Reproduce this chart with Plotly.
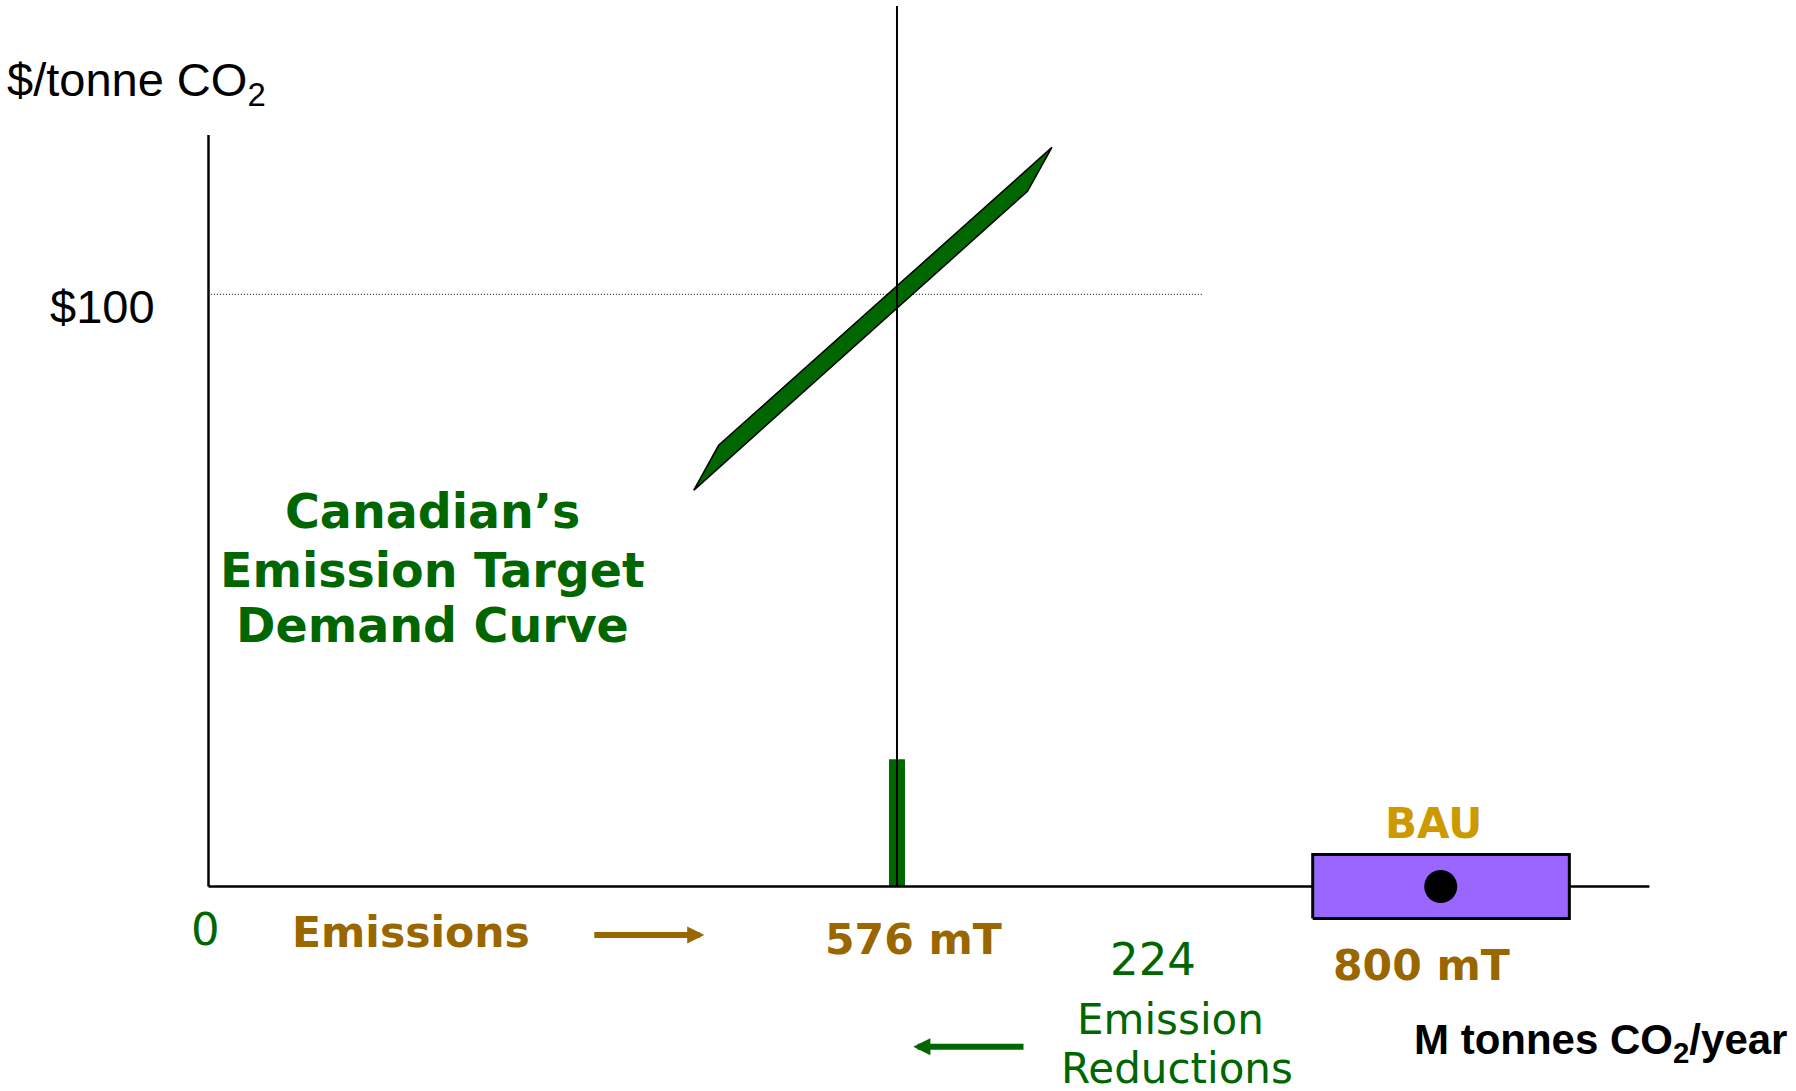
import plotly.graph_objects as go

# ---------------- data (schematic diagram) ----------------
# x: emissions (M tonnes CO2/year, schematic drawing units), y: price ($/tonne CO2)
axis_x_end = [1205.5]
axis_y_end = [126.9]
price_level = [100]
price_label = ["$100"]
target_emissions = [576]
target_bar_top = [21.5]
dotted_x = [2, 831.8]
vline_top = [148.7]
demand_x = [405.9, 426.8, 705.6, 685.2, 405.9]
demand_y = [66.9, 74.5, 124.8, 117.4, 66.9]
bau_point_x = [1030.9]          # schematic position of BAU (800 mT)
bau_box_x = [923.8, 1138.5]
bau_box_y = [-5.4, 5.4]
emis_arrow_x = [321.5, 414.8]
emis_arrow_y = [-8.2]
red_arrow_x = [683.1, 589.6]
red_arrow_y = [-27.05]

GREEN = "#006600"
BROWN = "#996600"
GOLD = "#CC9900"
PURPLE = "#9966FF"

# pixel geometry of the plot (axes fill the whole page)
W, H = 1796, 1091
OX, OY = 208.5, 886.5          # pixel position of origin
PXX, PXY = 1.1953, 5.922        # pixels per unit
xr = [-OX / PXX, (W - OX) / PXX]
yr = [-(H - OY) / PXY, OY / PXY]

fig = go.Figure()

# dotted $100 line
fig.add_trace(go.Scatter(x=dotted_x, y=[price_level[0]] * 2, mode="lines",
                         line=dict(color="black", width=1, dash="1px,2px"), hoverinfo="skip"))
# demand curve band
fig.add_trace(go.Scatter(x=demand_x, y=demand_y, mode="lines", fill="toself",
                         fillcolor=GREEN, line=dict(color="black", width=1.5), hoverinfo="skip"))
# green bar at target
fig.add_trace(go.Scatter(x=[target_emissions[0]] * 2, y=[0, target_bar_top[0]], mode="lines",
                         line=dict(color=GREEN, width=16), hoverinfo="skip"))
# vertical target line
fig.add_trace(go.Scatter(x=[target_emissions[0]] * 2, y=[0, vline_top[0]], mode="lines",
                         line=dict(color="black", width=2), hoverinfo="skip"))
# axes
fig.add_trace(go.Scatter(x=[0, 0], y=[axis_y_end[0], 0], mode="lines",
                         line=dict(color="black", width=2.5), hoverinfo="skip"))
fig.add_trace(go.Scatter(x=[0, axis_x_end[0]], y=[0, 0], mode="lines",
                         line=dict(color="black", width=2.5), hoverinfo="skip"))
# BAU box
bx = [bau_box_x[0], bau_box_x[1], bau_box_x[1], bau_box_x[0], bau_box_x[0]]
by = [bau_box_y[0], bau_box_y[0], bau_box_y[1], bau_box_y[1], bau_box_y[0]]
fig.add_trace(go.Scatter(x=bx, y=by, mode="lines", fill="toself", fillcolor=PURPLE,
                         line=dict(color="black", width=3), hoverinfo="skip"))
# BAU point
fig.add_trace(go.Scatter(x=bau_point_x, y=[0], mode="markers",
                         marker=dict(color="black", size=33, line=dict(width=0)), hoverinfo="skip"))

ARIAL = "Liberation Sans, Arial, sans-serif"
VERD = "DejaVu Sans, Verdana, sans-serif"

texts = [
    ("$/tonne CO<sub>2</sub>", -170.5, 135.6, ARIAL, 47, "black", "left"),
    (price_label[0], -43.1, 98.0, ARIAL, 47, "black", "right"),
    ("<b>Canadian’s</b>", 187.6, 63.4, VERD, 47.5, GREEN, "center"),
    ("<b>Emission Target</b>", 187.6, 53.4, VERD, 47.5, GREEN, "center"),
    ("<b>Demand Curve</b>", 187.6, 44.0, VERD, 47.5, GREEN, "center"),
    ("0", -2.1, -7.3, VERD, 45, GREEN, "center"),
    ("<b>Emissions</b>", 169.6, -7.8, VERD, 42.5, BROWN, "center"),
    ("<b>%d mT</b>" % target_emissions[0], 590, -9.0, VERD, 42.5, BROWN, "center"),
    ("224", 790.2, -12.3, VERD, 45, GREEN, "center"),
    ("Emission", 804.8, -22.5, VERD, 42, GREEN, "center"),
    ("Reductions", 810.6, -30.8, VERD, 42, GREEN, "center"),
    ("<b>BAU</b>", 1024.5, 10.6, VERD, 42, GOLD, "center"),
    ("<b>800 mT</b>", 1015.2, -13.3, VERD, 42.5, BROWN, "center"),
    ("<b>M tonnes CO<sub>2</sub>/year</b>", 1006.5, -26.4, ARIAL, 42, "black", "left"),
]
annotations = []
for t, x, y, fam, size, col, xa in texts:
    annotations.append(dict(text=t, x=x, y=y, xref="x", yref="y", showarrow=False,
                            xanchor=xa, yanchor="middle",
                            font=dict(family=fam, size=size, color=col)))
# arrows
annotations.append(dict(text="", x=emis_arrow_x[1], y=emis_arrow_y[0], ax=emis_arrow_x[0],
                        ay=emis_arrow_y[0], xref="x", yref="y", axref="x", ayref="y",
                        showarrow=True, arrowhead=2, arrowsize=0.57, arrowwidth=6,
                        arrowcolor=BROWN, standoff=0, startstandoff=0))
annotations.append(dict(text="", x=red_arrow_x[1], y=red_arrow_y[0], ax=red_arrow_x[0],
                        ay=red_arrow_y[0], xref="x", yref="y", axref="x", ayref="y",
                        showarrow=True, arrowhead=2, arrowsize=0.57, arrowwidth=6,
                        arrowcolor=GREEN, standoff=0, startstandoff=0))

fig.update_layout(
    width=W, height=H, margin=dict(l=0, r=0, t=0, b=0),
    paper_bgcolor="white", plot_bgcolor="white", showlegend=False,
    xaxis=dict(range=xr, visible=False, fixedrange=True),
    yaxis=dict(range=yr, visible=False, fixedrange=True),
    annotations=annotations,
)

fig.write_html("out.html", config={"displayModeBar": False},
               post_script="document.body.style.margin='0';document.body.style.overflow='hidden';")
